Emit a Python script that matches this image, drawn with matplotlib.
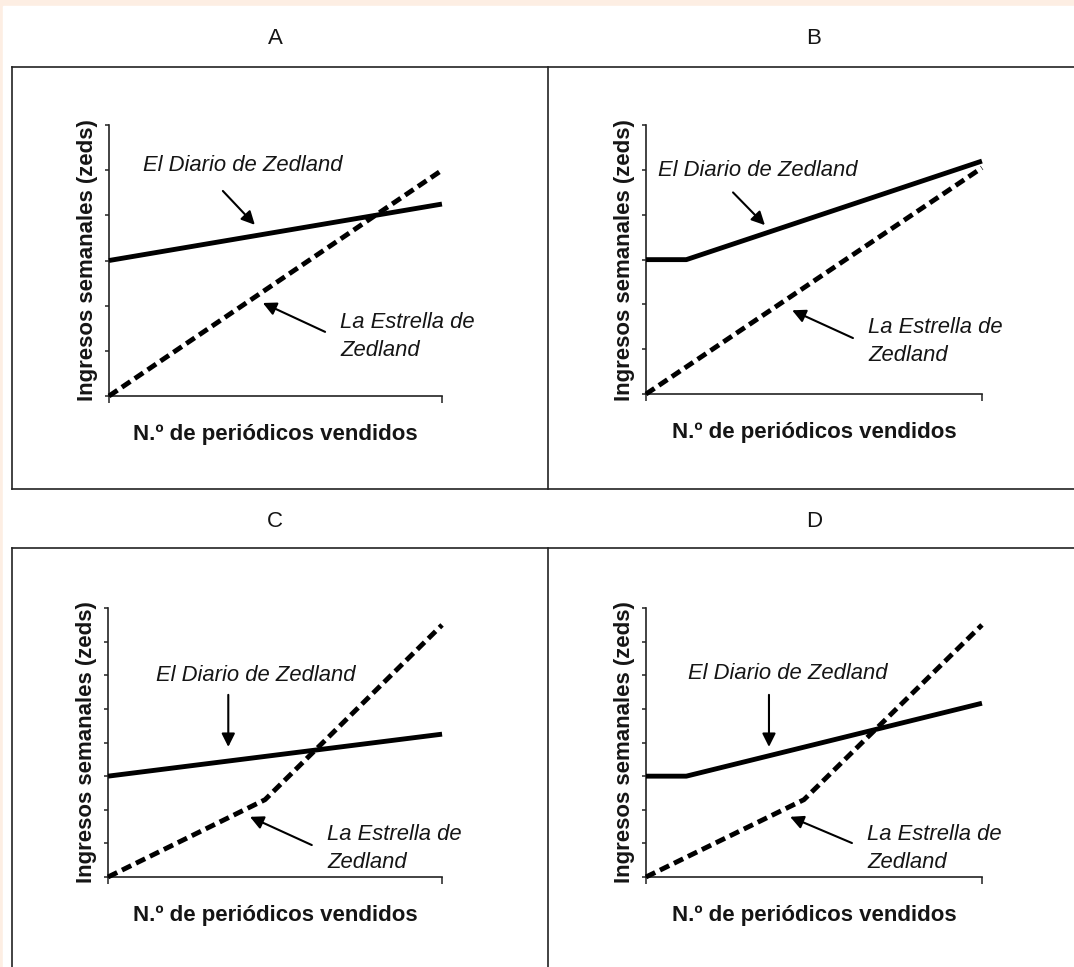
import matplotlib.pyplot as plt
from matplotlib.patches import Rectangle
from matplotlib.lines import Line2D

plt.rcParams['font.family'] = ['Liberation Sans', 'DejaVu Sans']

### Panel info
panel_names = ['A', 'B', 'C', 'D']
y_max = [6, 6, 8, 8]
x_max = 10

# El Diario de Zedland (solid)
diario_x = [[0, 10], [0, 1.2, 10], [0, 10], [0, 1.2, 10]]
diario_y = [[3.0, 4.25], [3.0, 3.0, 5.2], [3.0, 4.25], [3.0, 3.0, 5.17]]

# La Estrella de Zedland (dashed)
estrella_x = [[0, 10], [0, 10], [0, 4.7, 10], [0, 4.7, 10]]
estrella_y = [[0, 5.0], [0, 5.05], [0, 2.3, 7.5], [0, 2.3, 7.5]]

# label positions (text xy, arrow tail, arrow head)
diario_text = [(1.02, 5.11), (0.36, 5.0), (1.44, 6.0), (1.25, 6.07)]
diario_tail = [(3.42, 4.54), (2.59, 4.5), (3.6, 5.42), (3.66, 5.42)]
diario_head = [(4.38, 3.79), (3.54, 3.77), (3.6, 3.87), (3.66, 3.87)]
estrella_text = [(6.94, 1.32), (6.61, 1.17), (6.56, 0.85), (6.58, 0.85)]
estrella_tail = [(6.49, 1.42), (6.16, 1.25), (6.1, 0.95), (6.13, 1.01)]
estrella_head = [(4.62, 2.06), (4.35, 1.87), (4.25, 1.79), (4.29, 1.79)]

# axes rectangles in figure fractions
axes_rects = [[0.1015, 0.5905, 0.310, 0.2802],
              [0.6015, 0.5925, 0.3128, 0.278],
              [0.1006, 0.0931, 0.311, 0.278],
              [0.6015, 0.0931, 0.3128, 0.278]]

txt_color = '#151515'

#### Figure and background
fig = plt.figure(figsize=(10.74, 9.67), dpi=100)
fig.patch.set_facecolor('#fdeee3')

bg = fig.add_axes([0, 0, 1, 1])
bg.set_xlim(0, 1074)
bg.set_ylim(967, 0)
bg.axis('off')
bg.add_patch(Rectangle((3, 6), 1071, 961, color='white', zorder=0))
box_lines = [((12, 1074), (67, 67)), ((12, 12), (67, 489)), ((12, 1074), (489, 489)),
             ((548, 548), (67, 489)), ((12, 1074), (548, 548)), ((12, 12), (548, 967)),
             ((548, 548), (548, 967))]
for xs, ys in box_lines:
    bg.add_line(Line2D(xs, ys, color='#222222', lw=1.2, zorder=1))

#### Panels
for i, name in enumerate(panel_names):
    ax = fig.add_axes(axes_rects[i])
    ax.set_facecolor('none')
    ax.set_xlim(0, x_max)
    ax.set_ylim(0, y_max[i])

    ax.plot(diario_x[i], diario_y[i], color='black', lw=3.5, clip_on=False,
            solid_capstyle='butt', zorder=3)
    ax.plot(estrella_x[i], estrella_y[i], color='black', lw=3.5, clip_on=False,
            linestyle=(0, (2.1, 1.1)), zorder=4)

    # annotations
    ax.text(*diario_text[i], 'El Diario de Zedland', fontsize=15.8, fontstyle='italic',
            ha='left', va='center', color=txt_color)
    ax.annotate('', xy=diario_head[i], xytext=diario_tail[i],
                arrowprops=dict(arrowstyle='-|>', color='black', lw=1.5,
                                mutation_scale=20, shrinkA=0, shrinkB=0))
    ax.text(*estrella_text[i], 'La Estrella de\nZedland', fontsize=15.8, fontstyle='italic',
            ha='left', va='center', color=txt_color, linespacing=1.4)
    ax.annotate('', xy=estrella_head[i], xytext=estrella_tail[i],
                arrowprops=dict(arrowstyle='-|>', color='black', lw=1.5,
                                mutation_scale=20, shrinkA=0, shrinkB=0))

    # axes styling
    for side in ['top', 'right']:
        ax.spines[side].set_visible(False)
    for side in ['left', 'bottom']:
        ax.spines[side].set_linewidth(1.2)
        ax.spines[side].set_color('#222222')
    ax.set_xticks([0, x_max])
    ax.set_yticks(range(y_max[i] + 1))
    ax.tick_params(axis='y', direction='out', length=3, width=1.1, labelleft=False,
                   color='#222222')
    ax.tick_params(axis='x', direction='out', length=5, width=1.1, labelbottom=False,
                   color='#222222')
    ax.set_ylabel('Ingresos semanales (zeds)', fontsize=16, fontweight='bold',
                  color=txt_color, labelpad=5)
    ax.set_xlabel('N.º de periódicos vendidos', fontsize=16, fontweight='bold',
                  color=txt_color, labelpad=15)

    # panel letter
    ax_h_px = axes_rects[i][3] * 967
    ax.text(0.5, 1 + 87 / ax_h_px, name, transform=ax.transAxes, fontsize=16,
            ha='center', va='center', color=txt_color)

fig.savefig('out.png', dpi=100, facecolor=fig.get_facecolor())
